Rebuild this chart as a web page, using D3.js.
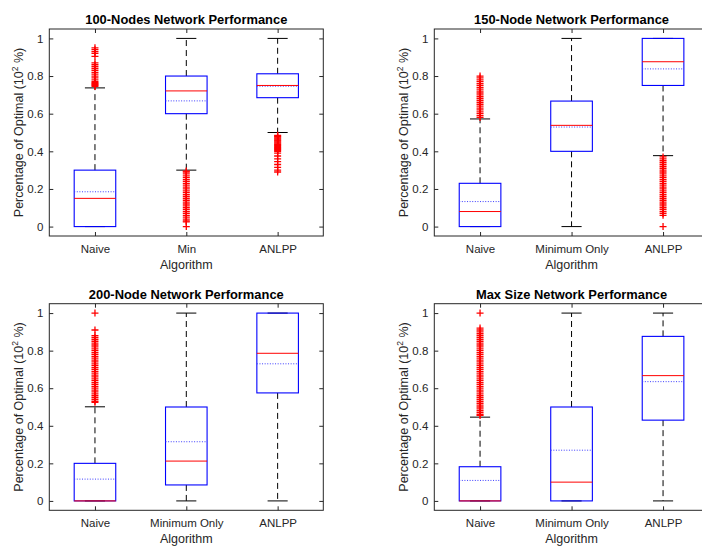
<!DOCTYPE html>
<html>
<head>
<meta charset="utf-8">
<script src="https://cdn.jsdelivr.net/npm/d3@7"></script>
<style>
  html, body { margin: 0; padding: 0; background: #fff; }
  svg { display: block; font-family: "Liberation Sans", Arial, Helvetica, sans-serif; }
</style>
</head>
<body>
<svg id="chart" width="702" height="547"></svg>
<script>
// ---------- DATA ----------
const titles = [
  "100-Nodes Network Performance",
  "150-Node Network Performance",
  "200-Node Network Performance",
  "Max Size Network Performance"
];
const categoriesShort = ["Naive", "Min", "ANLPP"];
const categoriesLong = ["Naive", "Minimum Only", "ANLPP"];
const yTicks = [0, 0.2, 0.4, 0.6, 0.8, 1];
const yTickLabels = ["0", "0.2", "0.4", "0.6", "0.8", "1"];

// per panel: [Naive, Min/Minimum Only, ANLPP]
const q1Values     = [[0, 0.600, 0.685], [0, 0.400, 0.750], [0, 0.085, 0.575], [0, 0, 0.430]];
const medianValues = [[0.150, 0.721, 0.750], [0.080, 0.538, 0.876], [0, 0.212, 0.786], [0, 0.100, 0.667]];
const q3Values     = [[0.300, 0.800, 0.812], [0.230, 0.667, 1.000], [0.200, 0.500, 1.000], [0.182, 0.500, 0.876]];
const meanValues   = [[0.185, 0.668, 0.746], [0.133, 0.529, 0.838], [0.116, 0.315, 0.730], [0.109, 0.270, 0.635]];
const whiskerLow   = [[0, 0.300, 0.500], [0, 0, 0.377], [0, 0, 0], [0, 0, 0]];
const whiskerHigh  = [[0.737, 1, 1], [0.572, 1, 1], [0.501, 1, 1], [0.446, 1, 1]];

const outliers100 = [
  [0.95, 0.94, 0.93, 0.92, 0.905, 0.87, 0.86, 0.85, 0.84, 0.83, 0.82, 0.81, 0.80, 0.79, 0.78, 0.77, 0.765, 0.76, 0.755, 0.75, 0.745],
  [0.295, 0.29, 0.28, 0.27, 0.26, 0.25, 0.24, 0.23, 0.22, 0.21, 0.20, 0.19, 0.18, 0.17, 0.16, 0.15, 0.14, 0.13, 0.12, 0.11, 0.10, 0.09, 0.08, 0.07, 0.06, 0.05, 0.04, 0.03, 0.025, 0],
  [0.485, 0.48, 0.475, 0.47, 0.465, 0.46, 0.455, 0.45, 0.445, 0.44, 0.435, 0.43, 0.425, 0.42, 0.415, 0.41, 0.405, 0.40, 0.39, 0.375, 0.36, 0.345, 0.33, 0.315, 0.30, 0.29]
];
const outliers150 = [
  [0.80, 0.79, 0.78, 0.77, 0.76, 0.75, 0.74, 0.73, 0.72, 0.71, 0.70, 0.69, 0.68, 0.67, 0.66, 0.65, 0.64, 0.63, 0.62, 0.61, 0.60, 0.59, 0.58],
  [],
  [0.37, 0.36, 0.35, 0.34, 0.33, 0.32, 0.31, 0.30, 0.29, 0.28, 0.27, 0.26, 0.25, 0.24, 0.23, 0.22, 0.21, 0.20, 0.19, 0.18, 0.17, 0.16, 0.15, 0.14, 0.13, 0.12, 0.11, 0.10, 0.09, 0.08, 0.07, 0.06, 0]
];
const outliers200 = [
  [1.0, 0.91, 0.88, 0.87, 0.86, 0.85, 0.84, 0.83, 0.82, 0.81, 0.80, 0.79, 0.78, 0.77, 0.76, 0.75, 0.74, 0.73, 0.72, 0.71, 0.70, 0.69, 0.68, 0.67, 0.66, 0.65, 0.64, 0.63, 0.62, 0.61, 0.60, 0.59, 0.58, 0.57, 0.56, 0.55, 0.54, 0.53, 0.525],
  [],
  []
];
const outliersMax = [
  [1.0, 0.92, 0.91, 0.90, 0.89, 0.88, 0.87, 0.86, 0.85, 0.84, 0.83, 0.82, 0.81, 0.80, 0.79, 0.78, 0.77, 0.76, 0.75, 0.74, 0.73, 0.72, 0.71, 0.70, 0.69, 0.68, 0.67, 0.66, 0.65, 0.64, 0.63, 0.62, 0.61, 0.60, 0.59, 0.58, 0.57, 0.56, 0.55, 0.54, 0.53, 0.52, 0.51, 0.50, 0.49, 0.48, 0.47, 0.46, 0.455],
  [],
  []
];
const outlierSets = [outliers100, outliers150, outliers200, outliersMax];
const categorySets = [categoriesShort, categoriesLong, categoriesLong, categoriesLong];

// ---------- LAYOUT ----------
const panelBoxes = [
  { left: 49.3, right: 323.3, top: 29, bottom: 236 },
  { left: 434.3, right: 708.8, top: 29, bottom: 236 },
  { left: 49.3, right: 323.3, top: 303.7, bottom: 510.3 },
  { left: 434.3, right: 708.8, top: 303.7, bottom: 510.3 }
];
const boxWidth = 0.455;
const capWidth = 0.22;
const axisColor = "#262626";
const fontFam = "Liberation Sans, Arial, sans-serif";

const svg = d3.select("#chart");

panelBoxes.forEach((pb, p) => {
  const g = svg.append("g");
  const x = d3.scaleLinear().domain([0.5, 3.5]).range([pb.left, pb.right]);
  const y = d3.scaleLinear().domain([-0.05, 1.05]).range([pb.bottom, pb.top]);
  const cats = categorySets[p];
  const idx = [0, 1, 2];

  // whiskers (dashed) and caps
  idx.forEach(i => {
    const cx = x(i + 1);
    if (whiskerHigh[p][i] > q3Values[p][i]) {
      g.append("line").attr("x1", cx).attr("x2", cx)
        .attr("y1", y(q3Values[p][i])).attr("y2", y(whiskerHigh[p][i]))
        .attr("stroke", "#000").attr("stroke-width", 1).attr("stroke-dasharray", "6,4");
    }
    if (whiskerLow[p][i] < q1Values[p][i]) {
      g.append("line").attr("x1", cx).attr("x2", cx)
        .attr("y1", y(q1Values[p][i])).attr("y2", y(whiskerLow[p][i]))
        .attr("stroke", "#000").attr("stroke-width", 1).attr("stroke-dasharray", "6,4");
    }
    [whiskerHigh[p][i], whiskerLow[p][i]].forEach(v => {
      g.append("line")
        .attr("x1", x(i + 1 - capWidth / 2)).attr("x2", x(i + 1 + capWidth / 2))
        .attr("y1", y(v)).attr("y2", y(v))
        .attr("stroke", "#000").attr("stroke-width", 1);
    });
  });

  // boxes
  g.selectAll("rect.box").data(idx).join("rect")
    .attr("class", "box")
    .attr("x", i => x(i + 1 - boxWidth / 2))
    .attr("width", i => x(i + 1 + boxWidth / 2) - x(i + 1 - boxWidth / 2))
    .attr("y", i => y(q3Values[p][i]))
    .attr("height", i => y(q1Values[p][i]) - y(q3Values[p][i]))
    .attr("fill", "none").attr("stroke", "#0000ff").attr("stroke-width", 1.1);

  // mean (dotted blue)
  g.selectAll("line.mean").data(idx).join("line")
    .attr("class", "mean")
    .attr("x1", i => x(i + 1 - boxWidth / 2)).attr("x2", i => x(i + 1 + boxWidth / 2))
    .attr("y1", i => y(meanValues[p][i])).attr("y2", i => y(meanValues[p][i]))
    .attr("stroke", "#3c3cff").attr("stroke-width", 1).attr("stroke-dasharray", "1,1.6");

  // median (red)
  g.selectAll("line.median").data(idx).join("line")
    .attr("class", "median")
    .attr("x1", i => x(i + 1 - boxWidth / 2)).attr("x2", i => x(i + 1 + boxWidth / 2))
    .attr("y1", i => y(medianValues[p][i])).attr("y2", i => y(medianValues[p][i]))
    .attr("stroke", "#ff0000").attr("stroke-width", 1);

  // outliers
  idx.forEach(i => {
    g.selectAll(null).data(outlierSets[p][i]).join("path")
      .attr("transform", v => `translate(${x(i + 1)},${y(v)})`)
      .attr("d", "M-3.5,0H3.5M0,-3.5V3.5")
      .attr("stroke", "#ff0000").attr("stroke-width", 1.3).attr("fill", "none");
  });

  // axes frame
  g.append("rect")
    .attr("x", pb.left).attr("y", pb.top)
    .attr("width", pb.right - pb.left).attr("height", pb.bottom - pb.top)
    .attr("fill", "none").attr("stroke", axisColor).attr("stroke-width", 1);

  // left axis (ticks inside) + labels
  const yAxis = d3.axisLeft(y).tickValues(yTicks).tickFormat((d, k) => yTickLabels[k])
    .tickSizeInner(-4).tickSizeOuter(0).tickPadding(6);
  const ya = g.append("g").attr("transform", `translate(${pb.left},0)`).call(yAxis);
  ya.select(".domain").remove();
  ya.selectAll("line").attr("stroke", axisColor);
  ya.selectAll("text").attr("fill", axisColor).attr("font-size", 11.5).attr("font-family", fontFam);

  // right axis ticks
  const yAxisR = d3.axisRight(y).tickValues(yTicks).tickFormat("").tickSizeInner(-4).tickSizeOuter(0);
  const yr = g.append("g").attr("transform", `translate(${pb.right},0)`).call(yAxisR);
  yr.select(".domain").remove();
  yr.selectAll("line").attr("stroke", axisColor);

  // bottom axis
  const xAxis = d3.axisBottom(x).tickValues([1, 2, 3]).tickFormat((d, k) => cats[k])
    .tickSizeInner(-4).tickSizeOuter(0).tickPadding(9);
  const xa = g.append("g").attr("transform", `translate(0,${pb.bottom})`).call(xAxis);
  xa.select(".domain").remove();
  xa.selectAll("line").attr("stroke", axisColor);
  xa.selectAll("text").attr("fill", axisColor).attr("font-size", 11.5).attr("font-family", fontFam);

  // top axis ticks
  const xAxisT = d3.axisTop(x).tickValues([1, 2, 3]).tickFormat("").tickSizeInner(-4).tickSizeOuter(0);
  const xt = g.append("g").attr("transform", `translate(0,${pb.top})`).call(xAxisT);
  xt.select(".domain").remove();
  xt.selectAll("line").attr("stroke", axisColor);

  // title
  g.append("text")
    .attr("x", (pb.left + pb.right) / 2).attr("y", pb.top - 5)
    .attr("text-anchor", "middle").attr("font-weight", "bold").attr("font-size", 12.9)
    .attr("fill", "#000").text(titles[p]);

  // x label
  g.append("text")
    .attr("x", (pb.left + pb.right) / 2).attr("y", pb.bottom + 33)
    .attr("text-anchor", "middle").attr("font-size", 12.5).attr("fill", axisColor)
    .text("Algorithm");

  // y label
  const yl = g.append("text")
    .attr("transform", `translate(${pb.left - 26},${(pb.top + pb.bottom) / 2}) rotate(-90)`)
    .attr("text-anchor", "middle").attr("font-size", 12.5).attr("fill", axisColor);
  yl.append("tspan").text("Percentage of Optimal (10");
  yl.append("tspan").attr("font-size", 8.5).attr("dy", -5).text("2");
  yl.append("tspan").attr("dy", 5).text(" %)");
});
</script>
</body>
</html>
